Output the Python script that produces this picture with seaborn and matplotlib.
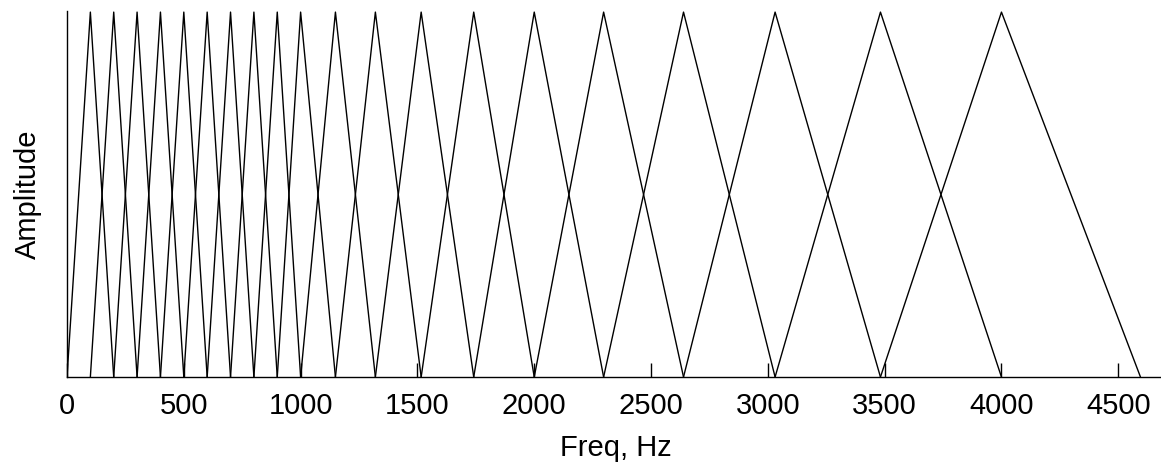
import matplotlib
matplotlib.use("Agg")
import matplotlib.pyplot as plt
import numpy as np
import pandas as pd
import seaborn as sns

# filter band edges (Hz): linear to 1 kHz, then log-spaced
edges = [0, 100, 200, 300, 400, 500, 600, 700, 800, 900, 1000,
         1149, 1320, 1516, 1741, 2000, 2297, 2639, 3031, 3482, 4000, 4595]
xticks = [0, 500, 1000, 1500, 2000, 2500, 3000, 3500, 4000, 4500]

rows = []
for k in range(len(edges) - 2):
    for f, a in zip(edges[k:k + 3], [0, 1, 0]):
        rows.append({"filter": k, "freq": f, "amp": a})
df = pd.DataFrame(rows)

sns.set_style("white")
plt.rcParams["font.family"] = ["Liberation Sans", "DejaVu Sans"]

fig = plt.figure(figsize=(11.61, 4.63), dpi=100)
ax = fig.add_axes([67 / 1161, 86 / 463, 1098 / 1161, 366 / 463])
sns.lineplot(data=df, x="freq", y="amp", units="filter", estimator=None,
             color="black", linewidth=1.0, ax=ax, legend=False)

ax.set_xlim(0, 4700)
ax.set_ylim(0, 1.003)
ax.set_xticks(xticks)
ax.set_yticks([])
ax.tick_params(axis="x", direction="in", length=10, width=1, labelsize=21,
               pad=11, bottom=True, colors="black")
for s in ["top", "right"]:
    ax.spines[s].set_visible(False)
for s in ["left", "bottom"]:
    ax.spines[s].set_color("black")
    ax.spines[s].set_linewidth(1.0)
ax.set_xlabel("Freq, Hz", fontsize=21, labelpad=10, color="black")
ax.set_ylabel("Amplitude", fontsize=21, labelpad=18, color="black")

fig.savefig("out.png", dpi=100)
plt.close(fig)
